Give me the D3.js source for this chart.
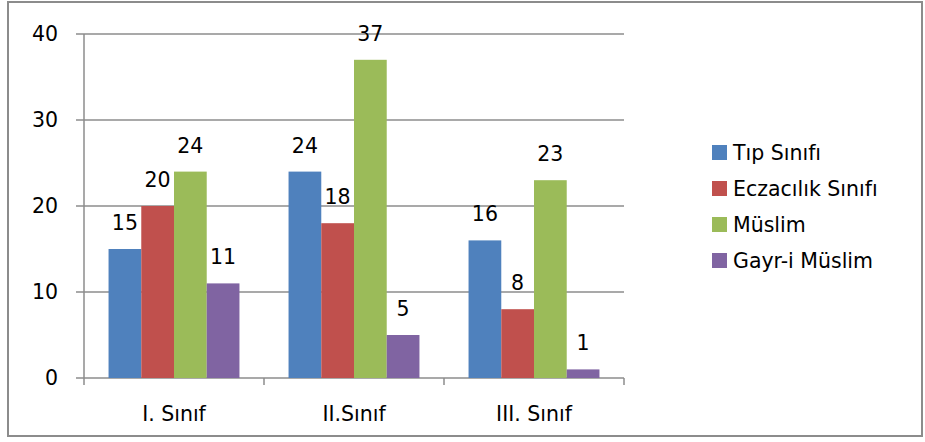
<!DOCTYPE html>
<html>
<head>
<meta charset="utf-8">
<script src="https://cdn.jsdelivr.net/npm/d3@7"></script>
<style>
  body { margin: 0; background: #fff; }
  text { font-family: "DejaVu Sans", sans-serif; fill: #000; }
</style>
</head>
<body>
<div id="chart"></div>
<script>
// categories and series
var categories = ['I. Sınıf', 'II.Sınıf', 'III. Sınıf'];
var seriesNames = ['Tıp Sınıfı', 'Eczacılık Sınıfı', 'Müslim', 'Gayr-i Müslim'];
var seriesColors = ['#4F81BD', '#C0504D', '#9BBB59', '#8064A2'];
var tipValues = [15, 24, 16];
var eczaciValues = [20, 18, 8];
var muslimValues = [24, 37, 23];
var gayriValues = [11, 5, 1];
var yTicks = [0, 10, 20, 30, 40];

var seriesValues = [tipValues, eczaciValues, muslimValues, gayriValues];

var width = 925, height = 442;
var plot = { left: 84, right: 624, top: 34, bottom: 378 };
var fontSize = '20.5px';

var svg = d3.select('#chart').append('svg')
  .attr('width', width)
  .attr('height', height);

// outer frame
svg.append('rect')
  .attr('x', 8).attr('y', 2)
  .attr('width', 914).attr('height', 434)
  .attr('fill', '#fff')
  .attr('stroke', '#8c8c8c')
  .attr('stroke-width', 2);

var x0 = d3.scaleBand()
  .domain(categories)
  .range([plot.left, plot.right]);

var x1 = d3.scaleBand()
  .domain(seriesNames)
  .range([0, x0.bandwidth()])
  .paddingOuter(0.75)
  .paddingInner(0);

var y = d3.scaleLinear()
  .domain([0, 40])
  .range([plot.bottom, plot.top]);

// gridlines
svg.append('g')
  .selectAll('line')
  .data(yTicks)
  .enter().append('line')
  .attr('x1', plot.left - 8)
  .attr('x2', plot.right)
  .attr('y1', function(d) { return y(d); })
  .attr('y2', function(d) { return y(d); })
  .attr('stroke', '#8c8c8c')
  .attr('stroke-width', 1.5);

// y axis line
svg.append('line')
  .attr('x1', plot.left).attr('x2', plot.left)
  .attr('y1', plot.top).attr('y2', plot.bottom)
  .attr('stroke', '#8c8c8c')
  .attr('stroke-width', 1.5);

// y tick labels
svg.append('g')
  .selectAll('text')
  .data(yTicks)
  .enter().append('text')
  .attr('x', 58)
  .attr('y', function(d) { return y(d); })
  .attr('dy', '0.35em')
  .attr('text-anchor', 'end')
  .style('font-size', fontSize)
  .text(function(d) { return d; });

// category tick marks
var bounds = categories.map(function(c) { return x0(c); }).concat([plot.right]);
svg.append('g')
  .selectAll('line')
  .data(bounds)
  .enter().append('line')
  .attr('x1', function(d) { return d; })
  .attr('x2', function(d) { return d; })
  .attr('y1', plot.bottom)
  .attr('y2', plot.bottom + 7)
  .attr('stroke', '#8c8c8c')
  .attr('stroke-width', 1.5);

// bars
var groups = svg.append('g')
  .selectAll('g')
  .data(categories)
  .enter().append('g')
  .attr('transform', function(d) { return 'translate(' + x0(d) + ',0)'; });

groups.selectAll('rect')
  .data(function(c, ci) {
    return seriesNames.map(function(s, si) {
      return { series: s, value: seriesValues[si][ci], color: seriesColors[si] };
    });
  })
  .enter().append('rect')
  .attr('x', function(d) { return x1(d.series); })
  .attr('width', x1.bandwidth())
  .attr('y', function(d) { return y(d.value); })
  .attr('height', function(d) { return plot.bottom - y(d.value); })
  .attr('fill', function(d) { return d.color; });

// value labels
groups.selectAll('text')
  .data(function(c, ci) {
    return seriesNames.map(function(s, si) {
      return { series: s, value: seriesValues[si][ci] };
    });
  })
  .enter().append('text')
  .attr('x', function(d) { return x1(d.series) + x1.bandwidth() / 2; })
  .attr('y', function(d) { return y(d.value) - 19; })
  .attr('text-anchor', 'middle')
  .style('font-size', fontSize)
  .text(function(d) { return d.value; });

// category labels
svg.append('g')
  .selectAll('text')
  .data(categories)
  .enter().append('text')
  .attr('x', function(d) { return x0(d) + x0.bandwidth() / 2; })
  .attr('y', 421)
  .attr('text-anchor', 'middle')
  .style('font-size', fontSize)
  .text(function(d) { return d; });

// legend
var legend = svg.append('g')
  .selectAll('g')
  .data(seriesNames)
  .enter().append('g')
  .attr('transform', function(d, i) { return 'translate(712,' + (145 + i * 36) + ')'; });

legend.append('rect')
  .attr('width', 15).attr('height', 15)
  .attr('fill', function(d, i) { return seriesColors[i]; });

legend.append('text')
  .attr('x', 21)
  .attr('y', 7.5)
  .attr('dy', '0.35em')
  .style('font-size', fontSize)
  .text(function(d) { return d; });
</script>
</body>
</html>
